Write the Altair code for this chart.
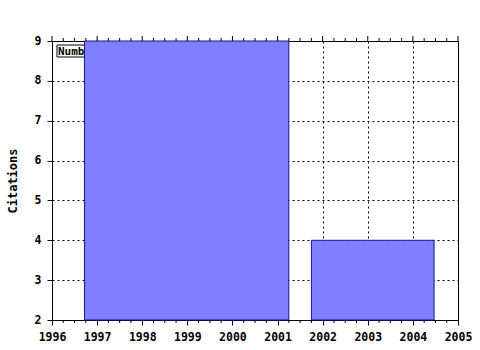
import altair as alt
import pandas as pd

# data
bar_start = [1996.72, 2001.75]
bar_end = [2001.25, 2004.47]
citations = [9, 4]
x_ticks = [1996, 1997, 1998, 1999, 2000, 2001, 2002, 2003, 2004, 2005]
y_ticks = [2, 3, 4, 5, 6, 7, 8, 9]
minor_ticks = [y + q for y in range(1996, 2005) for q in (0.25, 0.5, 0.75)]
legend_label = ["Number of citations"]

W, H = 406, 279
FONT = "DejaVu Sans Mono"

bars_df = pd.DataFrame({"start": bar_start, "end": bar_end, "value": citations})
major_df = pd.DataFrame({"t": x_ticks})
minor_df = pd.DataFrame({"t": minor_ticks})
leg_df = pd.DataFrame({"label": legend_label})

xscale = alt.Scale(domain=[1996, 2005], nice=False, zero=False)
yscale = alt.Scale(domain=[2, 9], nice=False, zero=False)

legend_box = alt.Chart(leg_df).mark_rect(fill="white", stroke="black", strokeWidth=1).encode(
    x=alt.value(5), x2=alt.value(150), y=alt.value(4), y2=alt.value(16)
)
legend_text = alt.Chart(leg_df).mark_text(
    font=FONT, fontWeight="bold", fontSize=11, align="left", baseline="middle", color="black"
).encode(x=alt.value(6), y=alt.value(10.5), text="label:N")

bars = alt.Chart(bars_df).mark_rect(fill="#8080FF", stroke="#1414A0", strokeWidth=1).encode(
    x=alt.X("start:Q", scale=xscale, axis=alt.Axis(
        values=x_ticks, format="d", title=None, tickSize=5, labelPadding=6,
        labelFlush=False, labelOverlap=False, grid=True)),
    x2="end:Q",
    y=alt.Y("value:Q", scale=yscale, axis=alt.Axis(
        values=y_ticks, format="d", title="Citations", tickSize=5, labelPadding=6,
        titlePadding=15, titleFontSize=12, grid=True)),
    y2=alt.datum(2),
)

minor_bottom = alt.Chart(minor_df).mark_rule(color="black", strokeWidth=1).encode(
    x=alt.X("t:Q", scale=xscale), y=alt.value(H), y2=alt.value(H + 3)
)
minor_top = alt.Chart(minor_df).mark_rule(color="black", strokeWidth=1).encode(
    x=alt.X("t:Q", scale=xscale), y=alt.value(-3), y2=alt.value(0)
)
major_top = alt.Chart(major_df).mark_rule(color="black", strokeWidth=1).encode(
    x=alt.X("t:Q", scale=xscale), y=alt.value(-5), y2=alt.value(0)
)

chart = alt.layer(legend_box, legend_text, bars, minor_bottom, minor_top, major_top).properties(
    width=W, height=H,
    padding={"left": 52, "top": 41, "right": 22, "bottom": 30},
    autosize=alt.AutoSizeParams(type="none"),
    background="white",
).configure_view(stroke="black", strokeWidth=1).configure_axis(
    labelFont=FONT, labelFontWeight="bold", labelFontSize=11.5, labelColor="black",
    titleFont=FONT, titleFontWeight="bold", titleFontSize=12, titleColor="black",
    domainColor="black", tickColor="black", gridColor="black", gridDash=[2, 3],
    gridOpacity=1, gridWidth=1,
)

chart.save("out.html", embed_options={"renderer": "svg", "actions": False})
